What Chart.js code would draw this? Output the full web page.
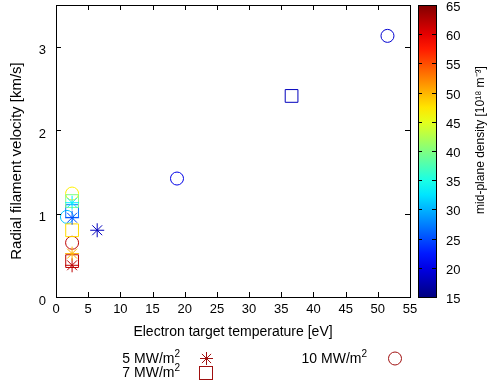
<!DOCTYPE html>
<html lang="en">
<head>
<meta charset="UTF-8" />
<title>Radial filament velocity</title>
<script src="https://cdn.jsdelivr.net/npm/chart.js@4.4.0/dist/chart.umd.min.js"></script>
<style>
  body { margin: 0; background: #fff; }
  #wrap { width: 487px; height: 385px; }
</style>
</head>
<body>
<div id="wrap"><canvas id="c" width="487" height="385"></canvas></div>
<script>
// 5 MW/m2 -> stars
const p5_temp = [2.5, 2.5, 2.5, 2.5, 6.4];
const p5_vel  = [0.38, 0.52, 0.95, 1.13, 0.80];
const p5_dens = [62, 50, 25, 33, 18];
// 7 MW/m2 -> squares
const p7_temp = [2.5, 2.5, 2.5, 2.5, 36.6];
const p7_vel  = [0.43, 0.80, 1.03, 1.15, 2.41];
const p7_dens = [62, 48, 27, 40, 18];
// 10 MW/m2 -> circles
const p10_temp = [2.5, 1.7, 2.5, 18.8, 51.5];
const p10_vel  = [0.65, 0.96, 1.24, 1.42, 3.13];
const p10_dens = [62, 31, 47, 20, 19];

const xTicks = [0, 5, 10, 15, 20, 25, 30, 35, 40, 45, 50, 55];
const yTicks = [0, 1, 2, 3];
const densTicks = [15, 20, 25, 30, 35, 40, 45, 50, 55, 60, 65];
const densMin = 15, densMax = 65;

const FONT = "'Liberation Sans', Arial, sans-serif";
const legendColor = "#a01010";

// jet colour map for the density
const jet = d => {
  const t = (d - densMin) / (densMax - densMin);
  const f = v => Math.round(255 * Math.max(0, Math.min(1, 1.5 - Math.abs(4 * t - v))));
  return `rgb(${f(3)},${f(2)},${f(1)})`;
};

const pts = (xs, ys) => xs.map((x, i) => ({ x, y: ys[i] }));

// text with a superscript part
const supText = (ctx, base, sup, xRight, y, size) => {
  ctx.font = `${size - 4}px ${FONT}`;
  const ws = ctx.measureText(sup).width;
  ctx.textAlign = "left";
  ctx.fillText(sup, xRight - ws, y - 5);
  ctx.font = `${size}px ${FONT}`;
  ctx.textAlign = "right";
  ctx.fillText(base, xRight - ws, y);
};

const frame = {
  id: "frame",
  afterDatasetsDraw(chart) {
    const { ctx, chartArea: a, scales } = chart;
    ctx.save();
    ctx.strokeStyle = "#000";
    ctx.lineWidth = 1;
    ctx.beginPath();
    xTicks.forEach(v => {
      const px = Math.round(scales.x.getPixelForValue(v)) + 0.5;
      ctx.moveTo(px, a.bottom); ctx.lineTo(px, a.bottom - 5);
      ctx.moveTo(px, a.top); ctx.lineTo(px, a.top + 5);
    });
    yTicks.forEach(v => {
      const py = Math.round(scales.y.getPixelForValue(v)) + 0.5;
      ctx.moveTo(a.left, py); ctx.lineTo(a.left + 5, py);
      ctx.moveTo(a.right, py); ctx.lineTo(a.right - 5, py);
    });
    ctx.stroke();
    ctx.strokeRect(Math.round(a.left) + 0.5, Math.round(a.top) + 0.5,
      Math.round(a.right - a.left), Math.round(a.bottom - a.top));

    // axis titles
    ctx.fillStyle = "#000";
    ctx.textBaseline = "middle";
    ctx.textAlign = "center";
    ctx.font = `14px ${FONT}`;
    ctx.fillText("Electron target temperature [eV]", (a.left + a.right) / 2, 332);
    ctx.save();
    ctx.translate(17, 161);
    ctx.rotate(-Math.PI / 2);
    ctx.font = `15px ${FONT}`;
    ctx.fillText("Radial filament velocity [km/s]", 0, 0);
    ctx.restore();

    // colour bar
    const bx = 418, bw = 18, top = a.top, bot = a.bottom;
    const g = ctx.createLinearGradient(0, bot, 0, top);
    for (let i = 0; i <= 20; i++) g.addColorStop(i / 20, jet(densMin + i / 20 * (densMax - densMin)));
    ctx.fillStyle = g;
    ctx.fillRect(bx, top, bw, bot - top);
    ctx.strokeRect(bx + 0.5, Math.round(top) + 0.5, bw, Math.round(bot - top));
    ctx.fillStyle = "#000";
    ctx.font = `13px ${FONT}`;
    ctx.textAlign = "left";
    ctx.beginPath();
    densTicks.forEach(v => {
      const py = Math.round(bot - (v - densMin) / (densMax - densMin) * (bot - top)) + 0.5;
      ctx.moveTo(bx, py); ctx.lineTo(bx + 4, py);
      ctx.moveTo(bx + bw, py); ctx.lineTo(bx + bw - 4, py);
      ctx.fillText(String(v), 446, py + 2);
    });
    ctx.stroke();
    ctx.save();
    ctx.translate(481, 140);
    ctx.rotate(-Math.PI / 2);
    ctx.textAlign = "center";
    ctx.font = `12px ${FONT}`;
    ctx.fillText("mid-plane density [10¹⁸ m⁻³]", 0, 0);
    ctx.restore();

    // legend
    supText(ctx, "5 MW/m", "2", 180, 359, 14);
    supText(ctx, "7 MW/m", "2", 180, 373, 14);
    supText(ctx, "10 MW/m", "2", 367, 359, 14);
    ctx.strokeStyle = legendColor;
    ctx.beginPath();
    const sx = 206.5, sy = 358.5, r = 6.5, d = r * Math.SQRT1_2;
    ctx.moveTo(sx - r, sy); ctx.lineTo(sx + r, sy);
    ctx.moveTo(sx, sy - r); ctx.lineTo(sx, sy + r);
    ctx.moveTo(sx - d, sy - d); ctx.lineTo(sx + d, sy + d);
    ctx.moveTo(sx - d, sy + d); ctx.lineTo(sx + d, sy - d);
    ctx.stroke();
    ctx.strokeRect(199.5, 366.5, 13, 13);
    ctx.beginPath();
    ctx.arc(395, 358.5, 6.5, 0, Math.PI * 2);
    ctx.stroke();
    ctx.restore();
  }
};

new Chart(document.getElementById("c"), {
  type: "scatter",
  data: {
    datasets: [
      {
        label: "5 MW/m²",
        data: pts(p5_temp, p5_vel),
        pointStyle: "star",
        pointRadius: 7,
        pointBorderWidth: 1,
        pointBorderColor: p5_dens.map(jet),
        pointBackgroundColor: "transparent"
      },
      {
        label: "7 MW/m²",
        data: pts(p7_temp, p7_vel),
        pointStyle: "rect",
        pointRadius: 9,
        pointBorderWidth: 1,
        pointBorderColor: p7_dens.map(jet),
        pointBackgroundColor: "transparent"
      },
      {
        label: "10 MW/m²",
        data: pts(p10_temp, p10_vel),
        pointStyle: "circle",
        pointRadius: 6.5,
        pointBorderWidth: 1,
        pointBorderColor: p10_dens.map(jet),
        pointBackgroundColor: "transparent"
      }
    ]
  },
  options: {
    responsive: false,
    animation: false,
    layout: { autoPadding: false, padding: { top: 5, right: 77, bottom: 44, left: 0 } },
    plugins: { legend: { display: false }, tooltip: { enabled: false } },
    scales: {
      x: {
        type: "linear",
        min: 0,
        max: 55,
        afterBuildTicks: s => { s.ticks = xTicks.map(v => ({ value: v })); },
        afterFit: s => { s.height = 44; s.paddingLeft = 0; s.paddingRight = 0; },
        grid: { display: false, drawTicks: false },
        border: { display: false },
        ticks: { color: "#000", font: { family: FONT, size: 13 }, padding: 5, maxRotation: 0 }
      },
      y: {
        type: "linear",
        min: 0,
        max: 3.5,
        afterBuildTicks: s => { s.ticks = yTicks.map(v => ({ value: v })); },
        afterFit: s => { s.width = 56; s.paddingTop = 0; s.paddingBottom = 0; },
        grid: { display: false, drawTicks: false },
        border: { display: false },
        ticks: { color: "#000", font: { family: FONT, size: 13 }, padding: 10, labelOffset: 4 }
      }
    }
  },
  plugins: [frame]
});
</script>
</body>
</html>
